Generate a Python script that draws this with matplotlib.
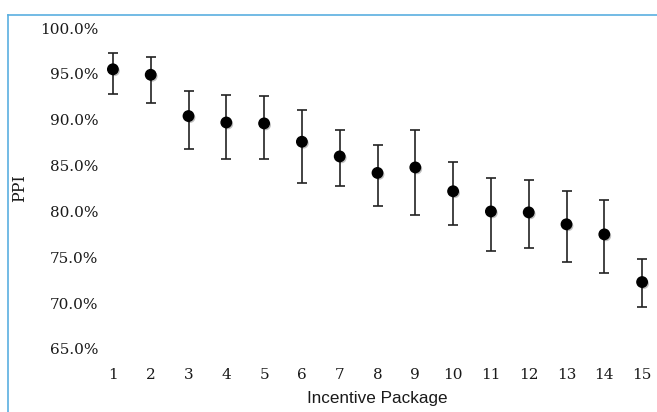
import numpy as np
import matplotlib.pyplot as plt
from matplotlib.lines import Line2D
from matplotlib.ticker import FuncFormatter
import matplotlib.patheffects as pe

# incentive packages 1..15, PPI (%) with upper / lower interval ends
packages = list(range(1, 16))
ppi   = [95.5, 94.9, 90.4, 89.7, 89.6, 87.6, 86.0, 84.2, 84.8, 82.2, 80.0, 79.9, 78.6, 77.5, 72.3]
upper = [97.3, 96.8, 93.1, 92.7, 92.6, 91.1, 88.9, 87.2, 88.9, 85.4, 83.6, 83.4, 82.2, 81.2, 74.8]
lower = [92.8, 91.8, 86.8, 85.7, 85.7, 83.1, 82.8, 80.6, 79.6, 78.5, 75.7, 76.0, 74.5, 73.3, 69.6]

yticks = [65, 70, 75, 80, 85, 90, 95, 100]

ppi = np.array(ppi)
err = np.vstack([ppi - np.array(lower), np.array(upper) - ppi])

W, H = 657, 412
fig = plt.figure(figsize=(W / 100, H / 100), dpi=100)
ax = fig.add_axes([94 / W, 1 - 349 / H, (661 - 94) / W, (349 - 28) / H])

ax.errorbar(packages, ppi, yerr=err, fmt='none', ecolor='#222222',
            elinewidth=1.2, capsize=3.5, capthick=1.2, zorder=2)
ax.plot(packages, ppi, 'o', color='black', markersize=7.5, zorder=3,
        path_effects=[pe.SimplePatchShadow(offset=(1.2, -1.2), alpha=0.25),
                      pe.Normal()])

ax.set_xlim(0.5, 15.5)
ax.set_ylim(65, 100)
ax.set_xticks(packages)
ax.set_yticks(yticks)
ax.yaxis.set_major_formatter(FuncFormatter(lambda v, p: f"{v:.1f}%"))

for s in ax.spines.values():
    s.set_visible(False)
ax.tick_params(axis='both', length=0, labelcolor='#1a1a1a')
ax.tick_params(axis='y', pad=-3)
ax.tick_params(axis='x', pad=14)
for lab in ax.get_xticklabels() + ax.get_yticklabels():
    lab.set_fontfamily('DejaVu Serif')
    lab.set_fontsize(11)

ax.set_ylabel('PPI', fontfamily='DejaVu Serif', fontsize=11.5, color='#1a1a1a',
              labelpad=0)
ax.yaxis.set_label_coords((20 - 94) / (661 - 94), 0.5)
ax.set_xlabel('Incentive Package', fontfamily='Liberation Sans', fontsize=12.3,
              color='#1a1a1a')
ax.xaxis.set_label_coords(0.5, -(399 - 349) / (349 - 28))
ax.xaxis.label.set_va('center')
ax.yaxis.label.set_va('center')

# light blue chart frame (top and left edges visible)
fig.add_artist(Line2D([8 / W, 8 / W], [0, 1 - 15 / H], color='#5aafe0', lw=1.2))
fig.add_artist(Line2D([8 / W, 1], [1 - 15 / H, 1 - 15 / H], color='#5aafe0', lw=1.2))

fig.savefig('out.png', dpi=100)
